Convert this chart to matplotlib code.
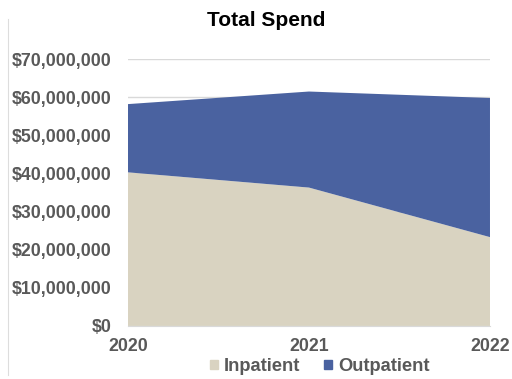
import matplotlib.pyplot as plt
from matplotlib.ticker import FuncFormatter
from matplotlib.patches import Patch
from matplotlib.lines import Line2D

years = [2020, 2021, 2022]
inpatient = [40.3e6, 36.3e6, 23.3e6]
outpatient = [17.9e6, 25.2e6, 36.5e6]

beige = "#D9D3C1"
blue = "#4A62A0"
grey = "#595959"

plt.rcParams["font.family"] = ["Liberation Sans", "DejaVu Sans"]
plt.rcParams["font.weight"] = "bold"

fig = plt.figure(figsize=(5.12, 3.79), dpi=100)
ax = fig.add_axes([0.25, 0.14, 0.707, 0.704])

ax.stackplot(years, inpatient, outpatient, colors=[beige, blue],
             labels=["Inpatient", "Outpatient"], zorder=2)

ax.set_xlim(2020, 2022)
ax.set_ylim(0, 70e6)
ax.set_yticks(range(0, 70000001, 10000000))
ax.yaxis.set_major_formatter(FuncFormatter(lambda v, p: f"${v:,.0f}"))
ax.set_xticks(years)
ax.grid(axis="y", color="#D9D9D9", linewidth=1, zorder=0)
for s in ["top", "right", "left"]:
    ax.spines[s].set_visible(False)
ax.spines["bottom"].set_color("#D9D9D9")
ax.tick_params(length=0, colors=grey, labelsize=12.8)
ax.tick_params(axis="y", pad=12)
ax.tick_params(axis="x", pad=9)
for lbl in ax.get_xticklabels():
    lbl.set_fontweight("bold")

# thin frame edge on the left side of the figure
fig.add_artist(Line2D([0.016, 0.016], [0.01, 0.95], transform=fig.transFigure,
                      color="#DDDDDD", linewidth=0.8))

fig.text(0.52, 0.947, "Total Spend", ha="center", va="center",
         fontsize=15, fontweight="bold", color="black")

handles = [Patch(color=beige, label="Inpatient"), Patch(color=blue, label="Outpatient")]
fig.legend(handles=handles, loc="center", bbox_to_anchor=(0.625, 0.032), ncol=2,
           frameon=False, handlelength=0.4, handleheight=0.4, handletextpad=0.35,
           columnspacing=1.3, prop={"size": 13.2, "weight": "bold"}, labelcolor=grey)

fig.savefig("out.png", dpi=100)
